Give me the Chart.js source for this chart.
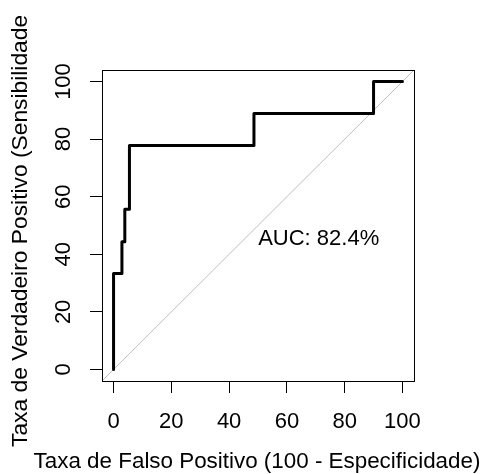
<!DOCTYPE html>
<html>
<head>
<meta charset="utf-8">
<script src="https://cdn.jsdelivr.net/npm/chart.js@4/dist/chart.umd.min.js"></script>
<style>
  html, body { margin: 0; padding: 0; background: #fff; }
  canvas { display: block; }
</style>
</head>
<body>
<canvas id="roc" width="484" height="474"></canvas>
<script>
// ===== dados da curva ROC =====
const fpr = [0, 0, 2.9, 2.9, 3.9, 3.9, 5.5, 5.5, 48.6, 48.6, 90, 90, 100];
const tpr = [0, 33.3, 33.3, 44.4, 44.4, 55.6, 55.6, 77.8, 77.8, 88.9, 88.9, 100, 100];
const axisLim = [-4, 104];               // limites do eixo (R estende 4%)
const xTicks = [0, 20, 40, 60, 80, 100];
const yTicks = [0, 20, 40, 60, 80, 100];
const xTitle = 'Taxa de Falso Positivo (100 - Especificidade)';
const yTitle = 'Taxa de Verdadeiro Positivo (Sensibilidade)';
const aucLabel = 'AUC: 82.4%';

const FAMILY = '"Liberation Sans", Arial, sans-serif';
const AUC_AT = { x: 71, y: 46 };

// ===== estilo "base R": caixa, rótulos e títulos =====
const rPlotPlugin = {
  id: 'rPlot',
  afterDraw(chart) {
    const { ctx, chartArea: a, scales: { x, y } } = chart;
    ctx.save();

    // caixa do gráfico
    ctx.strokeStyle = '#000';
    ctx.lineWidth = 1;
    ctx.strokeRect(a.left + 0.5, a.top + 0.5, a.right - a.left, a.bottom - a.top);

    ctx.fillStyle = '#000';
    ctx.font = '22px ' + FAMILY;
    ctx.textBaseline = 'alphabetic';
    ctx.textAlign = 'center';

    // rótulos do eixo x
    x.ticks.forEach(t => ctx.fillText(String(t.value), x.getPixelForValue(t.value), a.bottom + 47));

    // rótulos do eixo y (rodados, como las=0)
    y.ticks.forEach(t => {
      ctx.save();
      ctx.translate(a.left - 32, y.getPixelForValue(t.value));
      ctx.rotate(-Math.PI / 2);
      ctx.fillText(String(t.value), 0, 0);
      ctx.restore();
    });

    // texto da AUC
    ctx.fillText(aucLabel, x.getPixelForValue(AUC_AT.x), y.getPixelForValue(AUC_AT.y) + 8);

    // título x
    ctx.font = '22.4px ' + FAMILY;
    ctx.fillText(xTitle, (a.left + a.right) / 2 - 1, a.bottom + 87);

    // título y (cortado no topo, como na figura)
    ctx.save();
    ctx.beginPath();
    ctx.rect(0, 16, chart.width, chart.height - 16);
    ctx.clip();
    ctx.font = '22.8px ' + FAMILY;
    ctx.textAlign = 'left';
    ctx.translate(27, 447);
    ctx.rotate(-Math.PI / 2);
    ctx.fillText(yTitle, 0, 0);
    ctx.restore();

    ctx.restore();
  },
};

const axisOpts = (ticks, fit) => ({
  type: 'linear',
  min: axisLim[0],
  max: axisLim[1],
  afterBuildTicks: s => { s.ticks = ticks.map(v => ({ value: v })); },
  afterFit: fit,
  ticks: { display: false },
  grid: { drawOnChartArea: false, drawTicks: true, tickLength: 12, color: '#000', lineWidth: 1 },
  border: { display: false },
});

new Chart(document.getElementById('roc'), {
  type: 'scatter',
  plugins: [rPlotPlugin],
  data: {
    datasets: [
      {
        label: 'ROC',
        data: fpr.map((v, i) => ({ x: v, y: tpr[i] })),
        showLine: true,
        borderColor: '#000',
        borderWidth: 3,
        borderCapStyle: 'round',
        borderJoinStyle: 'round',
        pointRadius: 0,
        tension: 0,
        order: 0,
      },
      {
        label: 'diagonal',
        data: axisLim.map(v => ({ x: v, y: v })),
        showLine: true,
        borderColor: '#BEBEBE',
        borderWidth: 1,
        pointRadius: 0,
        order: 1,
      },
    ],
  },
  options: {
    responsive: false,
    devicePixelRatio: 1,
    animation: false,
    layout: { autoPadding: false, padding: { left: 90, top: 70, right: 70, bottom: 81 } },
    scales: {
      x: axisOpts(xTicks, s => { s.height = 12; }),
      y: axisOpts(yTicks, s => { s.width = 12; }),
    },
    plugins: { legend: { display: false }, tooltip: { enabled: false } },
  },
});
</script>
</body>
</html>
